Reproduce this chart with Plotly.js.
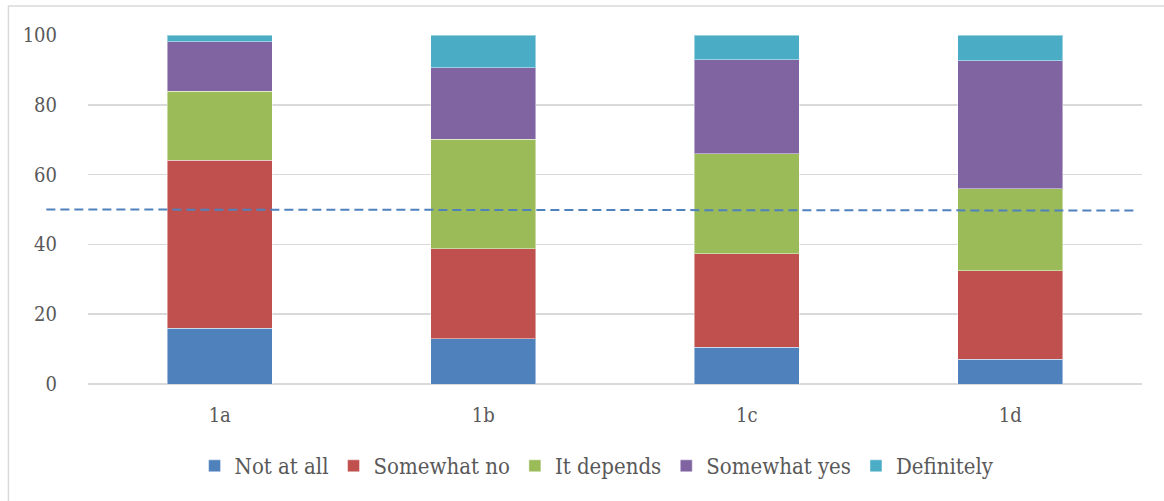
<!DOCTYPE html>
<html>
<head>
<meta charset="utf-8">
<script src="https://cdn.plot.ly/plotly-3.0.1.min.js"></script>
<style>
  html, body { margin: 0; padding: 0; background: #ffffff; }
  #chart { width: 1164px; height: 501px; }
</style>
</head>
<body>
<div id="chart"></div>
<script>
// Survey items on the x axis
const categories = ['1a', '1b', '1c', '1d'];

// Share of answers (%) for each response level, stacked bottom to top
const notAtAll     = [16.0, 12.9, 10.5, 7.1];
const somewhatNo   = [48.1, 25.8, 26.8, 25.4];
const itDepends    = [19.8, 31.5, 28.7, 23.5];
const somewhatYes  = [14.1, 20.4, 26.9, 36.6];
const definitely   = [2.0, 9.4, 7.1, 7.4];

const seriesNames = ['Not at all', 'Somewhat no', 'It depends', 'Somewhat yes', 'Definitely'];
const seriesValues = [notAtAll, somewhatNo, itDepends, somewhatYes, definitely];
const seriesColors = ['#4F81BD', '#C0504D', '#9BBB59', '#8064A2', '#4BACC6'];

// Reference level drawn as a dashed line across the chart
const referenceStart = 50.0;
const referenceEnd = 49.7;

// Value axis ticks
const yTicks = [0, 20, 40, 60, 80, 100];

const fontFamily = '"DejaVu Serif Condensed", "DejaVu Serif", "Liberation Serif", serif';
const textColor = '#595959';

const traces = seriesNames.map((name, i) => ({
  type: 'bar',
  name: name,
  x: categories,
  y: seriesValues[i],
  marker: {
    color: seriesColors[i],
    line: { color: 'rgba(255,255,255,0.45)', width: 1 }
  },
  hoverinfo: 'x+y+name'
}));

const yRange = [0, 100];
const toPaperY = v => (v - yRange[0]) / (yRange[1] - yRange[0]);

const layout = {
  width: 1164,
  height: 501,
  margin: { l: 88, r: 22, t: 35, b: 117 },
  paper_bgcolor: '#ffffff',
  plot_bgcolor: '#ffffff',
  barmode: 'stack',
  bargap: 0.6,
  showlegend: true,
  legend: {
    orientation: 'h',
    x: 0.483,
    xanchor: 'center',
    y: -0.235,
    yanchor: 'middle',
    traceorder: 'normal',
    font: { family: fontFamily, size: 22, color: textColor },
    itemwidth: 30
  },
  xaxis: {
    type: 'category',
    showgrid: false,
    zeroline: false,
    showline: false,
    ticks: '',
    ticklabelstandoff: 17,
    tickfont: { family: fontFamily, size: 20, color: textColor },
    fixedrange: true
  },
  yaxis: {
    range: yRange,
    tickvals: yTicks,
    ticktext: yTicks.map(String),
    showgrid: true,
    gridcolor: '#d9d9d9',
    gridwidth: 1.5,
    zeroline: true,
    zerolinecolor: '#d9d9d9',
    zerolinewidth: 2,
    showline: false,
    ticks: '',
    ticklabelstandoff: 30,
    tickfont: { family: fontFamily, size: 20, color: textColor },
    fixedrange: true
  },
  shapes: [
    // chart frame
    {
      type: 'rect',
      xref: 'paper', yref: 'paper',
      x0: -0.0755, x1: 1.1,
      y0: -0.5, y1: 1.083,
      line: { color: '#d9d9d9', width: 1.5 },
      fillcolor: 'rgba(0,0,0,0)',
      layer: 'below'
    },
    // dashed reference line at 50 %
    {
      type: 'line',
      xref: 'paper', yref: 'paper',
      x0: -0.0395, x1: 0.9966,
      y0: toPaperY(referenceStart), y1: toPaperY(referenceEnd),
      line: { color: '#4F81BD', width: 2, dash: '9px,5px' },
      layer: 'above'
    }
  ]
};

Plotly.newPlot('chart', traces, layout, { displayModeBar: false, staticPlot: true });
</script>
</body>
</html>
